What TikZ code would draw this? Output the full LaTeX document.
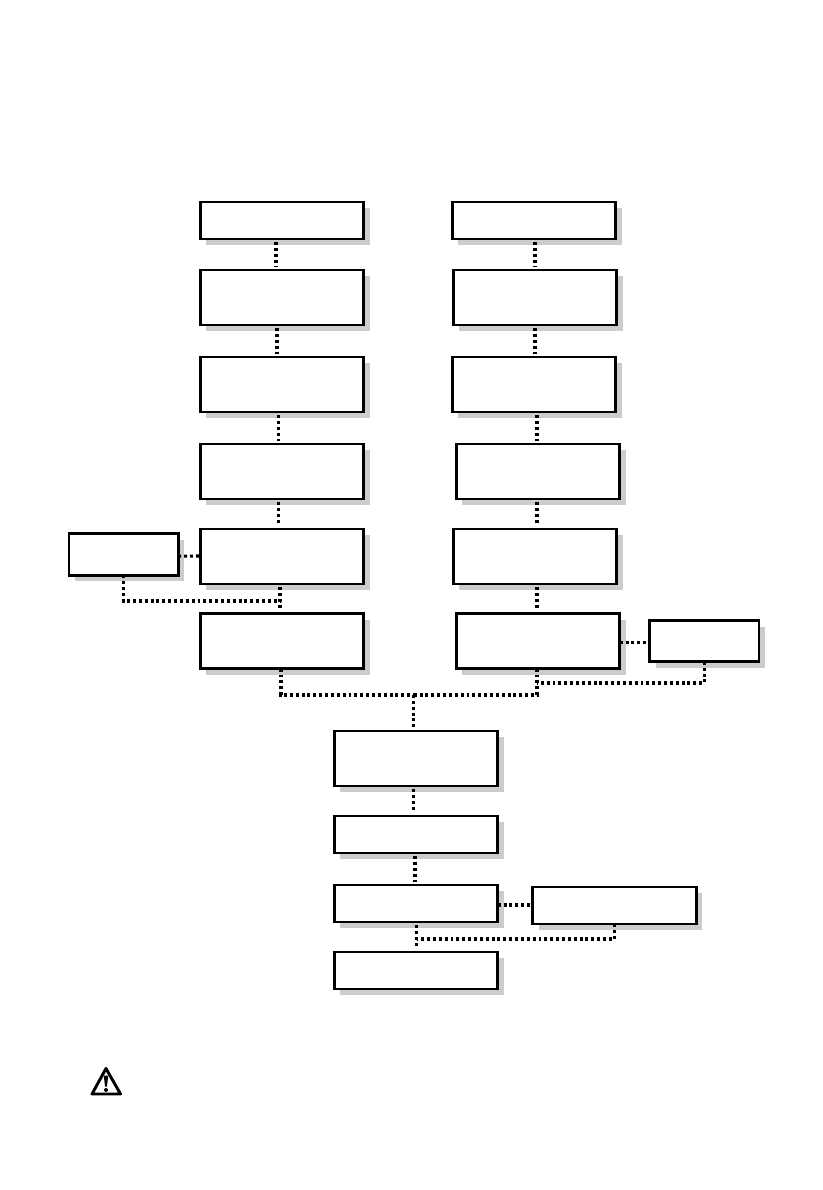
\documentclass[tikz,border=0pt]{standalone}
\usepackage{tikz}
\usetikzlibrary{positioning,shadows}

\begin{document}
\begin{tikzpicture}[
    x=0.75pt, y=0.75pt,
    node distance=23.25pt,
    box/.style={rectangle, draw, line width=2.1pt, fill=white, inner sep=0pt, outer sep=0pt,
        minimum width=122.6pt, minimum height=27.75pt,
        drop shadow={shadow xshift=4.5pt, shadow yshift=-4.5pt, fill=black!20, opacity=1}},
    tallbox/.style={box, minimum height=41.25pt},
    sidebox/.style={box, minimum width=82pt, minimum height=31pt},
    link/.style={line width=2.3pt, dash pattern=on 2.2pt off 2.2pt},
    spaced/.style={shorten <=2.5pt, shorten >=2.5pt}
]
    \useasboundingbox (0,0) rectangle (822,-1190);

    % left column
    \node[box] (lefta) at (282,-220.5) {};
    \node[tallbox, below=23.25pt of lefta] (leftb) {};
    \node[tallbox, below=24pt of leftb] (leftc) {};
    \node[tallbox, below=24pt of leftc] (leftd) {};
    \node[tallbox, below=22.5pt of leftd] (lefte) {};
    \node[tallbox, below=22.25pt of lefte] (leftf) {};
    \node[sidebox, left=16.5pt of lefte, yshift=1.5pt] (sidea) {};

    % right column
    \node[box, right=66.4pt of lefta] (righta) {};
    \node[tallbox, below=23.25pt of righta, xshift=0.75pt] (rightb) {};
    \node[tallbox, below=24pt of rightb, xshift=-0.75pt] (rightc) {};
    \node[tallbox, below=24pt of rightc, xshift=3pt] (rightd) {};
    \node[tallbox, below=22.5pt of rightd, xshift=-2.25pt] (righte) {};
    \node[tallbox, below=22.25pt of righte, xshift=2.25pt] (rightf) {};
    \node[sidebox, right=22.5pt of rightf] (sideb) {};

    % centre column
    \node[tallbox] (centera) at (416,-758.5) {};
    \node[box, below=22.5pt of centera] (centerb) {};
    \node[box, below=24pt of centerb] (centerc) {};
    \node[box, below=22.5pt of centerc] (centerd) {};
    \node[box, right=26.25pt of centerc, yshift=-1.5pt] (sidec) {};

    \coordinate (joinleft) at (280,-601);
    \coordinate (joinright) at (537,-683);
    \coordinate (joinbus) at (413.5,-695);
    \coordinate (joinlow) at (417,-939);

    \draw[link, spaced] ([xshift=-4.5pt]lefta.south) -- ([xshift=-4.5pt]leftb.north);
    \draw[link, spaced] ([xshift=-3.75pt]leftb.south) -- ([xshift=-3.75pt]leftc.north);
    \draw[link, spaced] ([xshift=-2.6pt]leftc.south) -- ([xshift=-2.6pt]leftd.north);
    \draw[link, spaced] ([xshift=-2.6pt]leftd.south) -- ([xshift=-2.6pt]lefte.north);
    \draw[link, spaced] ([xshift=-1.5pt]lefte.south) -- ([xshift=-1.5pt]leftf.north);
    \draw[link] ([yshift=-1.2pt]sidea.east) -- ([yshift=0.375pt]lefte.west);
    \draw[link] (sidea.south) |- (joinleft);

    \draw[link, spaced] ([xshift=0.75pt]righta.south) -- (rightb.north);
    \draw[link, spaced] (rightb.south) -- ([xshift=0.75pt]rightc.north);
    \draw[link, spaced] ([xshift=2.25pt]rightc.south) -- ([xshift=-0.75pt]rightd.north);
    \draw[link, spaced] ([xshift=-0.75pt]rightd.south) -- ([xshift=1.5pt]righte.north);
    \draw[link, spaced] ([xshift=1.5pt]righte.south) -- ([xshift=-0.75pt]rightf.north);
    \draw[link] ([yshift=-1.2pt]rightf.east) -- ([yshift=-1.2pt]sideb.west);
    \draw[link] (sideb.south) |- (joinright);

    \draw[link] ([xshift=-0.75pt]leftf.south) |- (joinbus);
    \draw[link] ([xshift=-0.75pt]rightf.south) |- (joinbus);
    \draw[link] (joinbus) -- ([xshift=-1.875pt]centera.north);

    \draw[link, spaced] ([xshift=-1.875pt]centera.south) -- ([xshift=-1.875pt]centerb.north);
    \draw[link, spaced] ([xshift=-0.75pt]centerb.south) -- ([xshift=-0.75pt]centerc.north);
    \draw[link, spaced] ([xshift=0.375pt]centerc.south) -- ([xshift=0.375pt]centerd.north);
    \draw[link] ([yshift=-1.125pt]centerc.east) -- ([yshift=0.375pt]sidec.west);
    \draw[link] (sidec.south) |- (joinlow);

    % warning sign
    \draw[line width=2.2pt, line join=round] (106,-1068.5) -- (92,-1094) -- (120.5,-1094) -- cycle;
    \fill (103.8,-1075.5) -- (108.2,-1075.5) -- (107,-1086.5) -- (105,-1086.5) -- cycle;
    \fill (106,-1090) circle (1.5pt);
\end{tikzpicture}
\end{document}
